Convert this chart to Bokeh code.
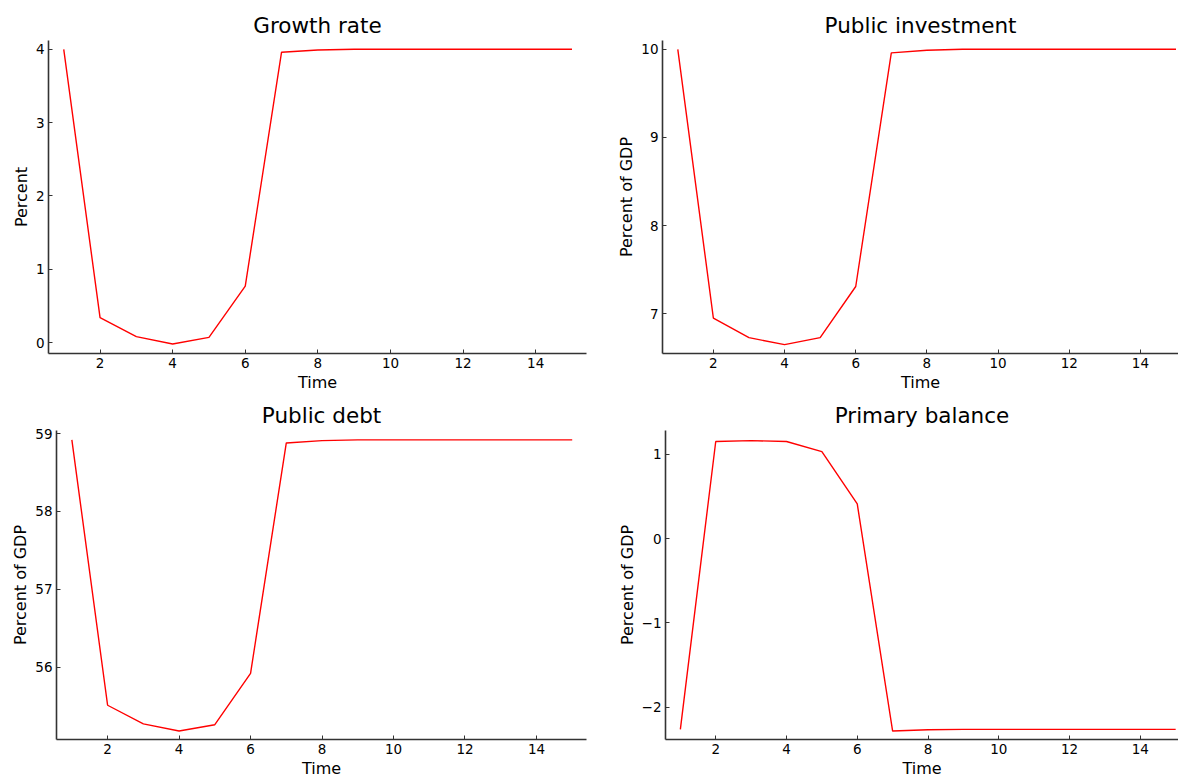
from bokeh.plotting import figure
from bokeh.layouts import column, row
from bokeh.models import Range1d, FixedTicker
from bokeh.embed import file_html
from bokeh.resources import INLINE

# ---- data ----
time = list(range(1, 16))
growth_rate = [4.00, 0.34, 0.08, -0.02, 0.07, 0.77, 3.96, 3.99, 4.00, 4.00, 4.00, 4.00, 4.00, 4.00, 4.00]
public_investment = [10.00, 6.95, 6.73, 6.65, 6.73, 7.31, 9.96, 9.99, 10.00, 10.00, 10.00, 10.00, 10.00, 10.00, 10.00]
public_debt = [58.92, 55.51, 55.27, 55.18, 55.26, 55.92, 58.88, 58.91, 58.92, 58.92, 58.92, 58.92, 58.92, 58.92, 58.92]
primary_balance = [-2.26, 1.15, 1.16, 1.15, 1.03, 0.41, -2.28, -2.265, -2.26, -2.26, -2.26, -2.26, -2.26, -2.26, -2.26]

x_ticks = [2, 4, 6, 8, 10, 12, 14]
growth_ticks = [0, 1, 2, 3, 4]
invest_ticks = [7, 8, 9, 10]
debt_ticks = [56, 57, 58, 59]
balance_ticks = [-2, -1, 0, 1]

FONT = "DejaVu Sans"


def make_panel(title, ylabel, y, yticks, xr, yr, width, height,
               border_left, border_right, border_top, border_bottom):
    p = figure(width=width, height=height, output_backend="svg", toolbar_location=None,
               x_range=Range1d(*xr), y_range=Range1d(*yr),
               min_border_left=border_left, min_border_right=border_right,
               min_border_top=border_top, min_border_bottom=border_bottom)
    p.line(time, y, line_color="#ff0000", line_width=1.4)
    p.title.text = title
    p.title.align = "center"
    p.title.text_font = FONT
    p.title.text_font_size = "21.5px"
    p.title.text_font_style = "normal"
    p.title.text_color = "#000000"
    p.title.offset = 0
    p.title.standoff = 6
    p.outline_line_color = None
    p.xgrid.visible = False
    p.ygrid.visible = False
    p.background_fill_color = "white"
    p.border_fill_color = "white"
    for ax in (p.xaxis[0], p.yaxis[0]):
        ax.axis_line_color = "#333333"
        ax.axis_line_width = 1.6
        ax.major_tick_line_color = "#333333"
        ax.major_tick_in = 4
        ax.major_tick_out = 0
        ax.minor_tick_line_color = None
        ax.major_label_text_font = FONT
        ax.major_label_text_font_size = "13.5px"
        ax.major_label_text_color = "#000000"
        ax.axis_label_text_font = FONT
        ax.axis_label_text_font_size = "16px"
        ax.axis_label_text_font_style = "normal"
        ax.axis_label_text_color = "#000000"
        ax.major_label_standoff = 4
        ax.axis_label_standoff = 2
    p.xaxis[0].ticker = FixedTicker(ticks=x_ticks)
    p.yaxis[0].ticker = FixedTicker(ticks=yticks)
    overrides = {t: ("\u2212" + str(abs(t))) for t in yticks if t < 0}
    if overrides:
        p.yaxis[0].major_label_overrides = overrides
    p.xaxis[0].axis_label = "Time"
    p.yaxis[0].axis_label = ylabel
    return p


p1 = make_panel("Growth rate", "Percent", growth_rate, growth_ticks,
                (0.58, 15.4), (-0.15, 4.12), 614, 394, 48, 28, 40, 38)
p2 = make_panel("Public investment", "Percent of GDP", public_investment, invest_ticks,
                (0.57, 15.07), (6.55, 10.10), 564, 394, 47, 0, 40, 38)
p3 = make_panel("Public debt", "Percent of GDP", public_debt, debt_ticks,
                (0.57, 15.4), (55.07, 59.04), 614, 386, 56, 28, 36, 40)
p4 = make_panel("Primary balance", "Percent of GDP", primary_balance, balance_ticks,
                (0.58, 15.08), (-2.38, 1.28), 564, 386, 50, 0, 36, 40)

layout = column(row(p1, p2), row(p3, p4))

with open("out.html", "w") as f:
    f.write(file_html(layout, INLINE))
